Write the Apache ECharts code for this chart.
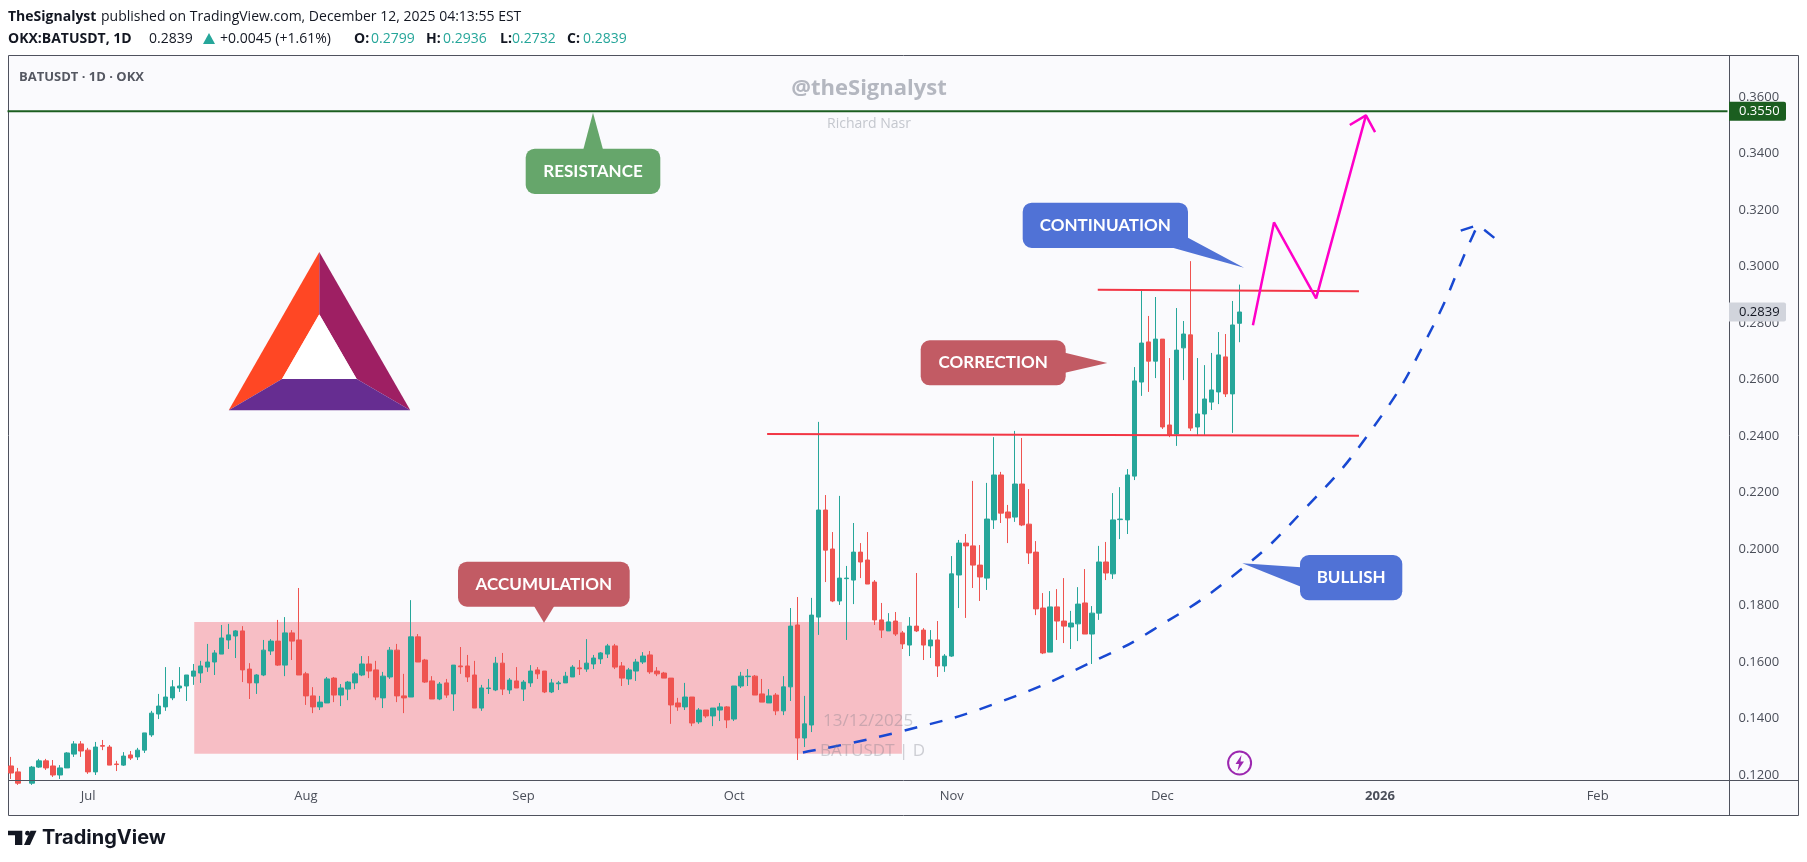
<!DOCTYPE html>
<html>
<head>
<meta charset="utf-8">
<title>BATUSDT 1D</title>
<style>
  html, body { margin: 0; padding: 0; background: #fff; }
  #chart { width: 1807px; height: 862px; }
</style>
<script src="https://cdn.jsdelivr.net/npm/echarts@6/dist/echarts.min.js"></script>
</head>
<body>
<div id="chart"></div>
<script>
// daily candles, first one is 2025-06-20
const opens = [
  .1232,.1211,.1171,.1171,.1228,.1250,.1232,.1200,.1225,.1274,
  .1310,.1288,.1211,.1304,.1299,.1239,.1235,.1271,.1264,.1288,
  .1342,.1416,.1441,.1473,.1508,.1515,.1550,.1561,.1582,.1600,
  .1628,.1678,.1692,.1710,.1575,.1526,.1554,.1639,.1674,.1589,
  .1703,.1678,.1558,.1480,.1441,.1455,.1543,.1483,.1504,.1526,
  .1554,.1593,.1572,.1473,.1547,.1642,.1480,.1476,.1689,.1607,
  .1533,.1469,.1526,.1487,.1586,.1586,.1554,.1437,.1506,.1501,
  .1596,.1501,.1533,.1504,.1526,.1572,.1568,.1494,.1523,.1526,
  .1547,.1579,.1575,.1593,.1611,.1628,.1657,.1586,.1540,.1568,
  .1600,.1625,.1568,.1561,.1543,.1455,.1441,.1476,.1388,.1430,
  .1409,.1430,.1441,.1398,.1515,.1548,.1550,.1487,.1455,.1483,
  .1427,.1512,.1731,.1331,.1377,.1759,.2138,.2000,.1816,.1895,
  .1890,.1989,.1961,.1883,.1749,.1710,.1745,.1703,.1660,.1727,
  .1713,.1657,.1678,.1586,.1621,.1908,.2021,.2011,.1943,.1897,
  .2103,.2262,.2131,.2113,.2230,.2088,.1989,.1791,.1635,.1795,
  .1745,.1724,.1735,.1809,.1699,.1773,.1954,.1912,.2104,.2103,
  .2258,.2591,.2733,.2665,.2743,.2439,.2407,.2712,.2758,.2432,
  .2478,.2520,.2556,.2680,.2549,.2799
];
const closes = [
  .1207,.1171,.1160,.1228,.1250,.1225,.1200,.1225,.1278,.1310,
  .1285,.1211,.1299,.1302,.1235,.1237,.1267,.1260,.1288,.1349,
  .1419,.1444,.1476,.1512,.1515,.1554,.1568,.1586,.1600,.1632,
  .1685,.1696,.1710,.1572,.1526,.1554,.1642,.1674,.1589,.1703,
  .1674,.1554,.1480,.1441,.1458,.1540,.1483,.1508,.1529,.1558,
  .1593,.1568,.1476,.1550,.1642,.1480,.1473,.1689,.1600,.1529,
  .1469,.1522,.1483,.1589,.1583,.1547,.1437,.1508,.1508,.1596,
  .1504,.1536,.1508,.1529,.1568,.1558,.1494,.1526,.1526,.1550,
  .1582,.1576,.1596,.1614,.1632,.1657,.1582,.1543,.1572,.1600,
  .1621,.1565,.1558,.1543,.1448,.1441,.1476,.1384,.1430,.1409,
  .1437,.1441,.1395,.1515,.1550,.1550,.1483,.1458,.1480,.1427,
  .1512,.1727,.1331,.1381,.1766,.2138,.1996,.1816,.1897,.1897,
  .1989,.1954,.1876,.1749,.1713,.1742,.1699,.1664,.1727,.1710,
  .1660,.1678,.1586,.1621,.1912,.2021,.2011,.1943,.1901,.2106,
  .2262,.2127,.2110,.2230,.2085,.1986,.1788,.1632,.1795,.1745,
  .1727,.1738,.1805,.1699,.1773,.1954,.1915,.2103,.2106,.2262,
  .2595,.2729,.2665,.2743,.2432,.2404,.2704,.2761,.2428,.2478,
  .2531,.2563,.2687,.2549,.2793,.2839
];
const highs = [
  .1264,.1225,.1178,.1232,.1257,.1257,.1253,.1235,.1281,.1320,
  .1320,.1296,.1317,.1324,.1306,.1250,.1281,.1285,.1296,.1349,
  .1427,.1487,.1582,.1536,.1582,.1554,.1593,.1604,.1664,.1642,
  .1731,.1735,.1713,.1727,.1596,.1557,.1678,.1681,.1749,.1759,
  .1713,.1862,.1565,.1511,.1480,.1547,.1547,.1522,.1533,.1565,
  .1621,.1621,.1604,.1565,.1653,.1664,.1558,.1819,.1699,.1611,
  .1550,.1529,.1540,.1589,.1653,.1625,.1604,.1519,.1540,.1618,
  .1632,.1543,.1582,.1536,.1589,.1582,.1568,.1540,.1533,.1565,
  .1589,.1607,.1681,.1625,.1635,.1664,.1664,.1600,.1579,.1611,
  .1635,.1639,.1582,.1565,.1543,.1473,.1526,.1476,.1437,.1430,
  .1437,.1455,.1444,.1515,.1565,.1575,.1554,.1540,.1504,.1490,
  .1550,.1791,.1830,.1480,.1827,.2450,.2191,.2060,.2188,.1940,
  .2092,.2021,.2060,.1890,.1809,.1773,.1777,.1710,.1759,.1915,
  .1720,.1713,.1745,.1628,.1975,.2032,.2053,.2241,.2014,.2234,
  .2396,.2273,.2156,.2418,.2393,.2212,.2028,.1844,.1851,.1858,
  .1897,.1781,.1865,.1929,.1798,.2011,.2025,.2198,.2219,.2283,
  .2644,.2917,.2825,.2892,.2743,.2676,.2853,.2807,.3019,.2676,
  .2651,.2694,.2768,.2761,.2878,.2936
];
const lows = [
  .1186,.1165,.1150,.1165,.1225,.1218,.1193,.1186,.1225,.1264,
  .1264,.1204,.1200,.1288,.1235,.1214,.1232,.1253,.1253,.1278,
  .1335,.1398,.1427,.1465,.1494,.1462,.1519,.1526,.1565,.1554,
  .1628,.1646,.1614,.1529,.1469,.1487,.1550,.1625,.1586,.1550,
  .1607,.1554,.1448,.1419,.1430,.1455,.1458,.1444,.1465,.1504,
  .1550,.1543,.1465,.1437,.1540,.1458,.1419,.1476,.1600,.1526,
  .1469,.1465,.1473,.1427,.1558,.1529,.1437,.1427,.1487,.1497,
  .1483,.1487,.1508,.1462,.1512,.1540,.1490,.1490,.1501,.1526,
  .1547,.1554,.1565,.1575,.1593,.1614,.1575,.1515,.1519,.1533,
  .1593,.1558,.1550,.1543,.1381,.1427,.1430,.1373,.1381,.1402,
  .1373,.1391,.1366,.1391,.1508,.1515,.1483,.1458,.1455,.1412,
  .1412,.1462,.1253,.1299,.1352,.1696,.1883,.1812,.1802,.1678,
  .1805,.1897,.1876,.1731,.1685,.1710,.1692,.1646,.1621,.1706,
  .1607,.1614,.1547,.1565,.1618,.1791,.1756,.1862,.1816,.1855,
  .2071,.2092,.2021,.2096,.2081,.1947,.1766,.1628,.1635,.1678,
  .1667,.1646,.1674,.1699,.1593,.1749,.1890,.1894,.2035,.2053,
  .2244,.2542,.2556,.2605,.2425,.2396,.2365,.2598,.2418,.2404,
  .2404,.2492,.2513,.2538,.2411,.2732
];

const monthTicks = [11, 42, 73, 103, 134, 164, 195, 226];
const monthLabels = ['Jul', 'Aug', 'Sep', 'Oct', 'Nov', 'Dec', '2026', 'Feb'];
const priceTicks = [.12, .14, .16, .18, .20, .22, .24, .26, .28, .30, .32, .34, .36];

const resistance = 0.355;
const lastPrice = 0.2839;

// drawings, x is the bar number (past the last candle too), y is price
const zoneBars = [26.1, 126.9];
const zonePrices = [0.1275, 0.1742];
const upperBars = [154.8, 192];
const upperPrices = [0.2918, 0.2912];
const lowerBars = [107.7, 192];
const lowerPrices = [0.2407, 0.2401];
const pinkBars = [176.9, 179.9, 185.9, 193];
const pinkPrices = [0.2792, 0.3156, 0.2887, 0.3535];
const pinkHeadBars = [190.7, 193, 194.3];
const pinkHeadPrices = [0.3501, 0.3535, 0.3476];
const curveBars = [112.8, 126.4, 140.9, 155.6, 162.5, 173.9, 183.9, 194, 201.7, 208.4, 209];
const curvePrices = [0.1280, 0.1352, 0.1459, 0.1619, 0.1711, 0.1902, 0.2132, 0.2429, 0.2747, 0.3119, 0.3147];
const curveHeadBars = [206.5, 209, 211.5];
const curveHeadPrices = [0.3127, 0.3147, 0.3097];

const FONT = '"Open Sans", sans-serif';
const UP = '#26a69a';
const DOWN = '#ef5350';
const TOTAL_BARS = 245;

function zip(a, b) {
  return a.map((v, i) => [v, b[i]]);
}

function drawing(bars, prices, color, width, extra) {
  return Object.assign({
    type: 'line',
    xAxisIndex: 1,
    yAxisIndex: 0,
    data: zip(bars, prices),
    symbol: 'none',
    silent: true,
    z: 5,
    lineStyle: { color: color, width: width }
  }, extra || {});
}

// dates for the category axis
const categories = [];
for (let i = 0; i < TOTAL_BARS; i++) {
  categories.push(new Date(Date.UTC(2025, 5, 20 + i)).toISOString().slice(0, 10));
}

const chart = echarts.init(document.getElementById('chart'), null, { renderer: 'canvas' });

chart.setOption({
  animation: false,
  backgroundColor: '#ffffff',
  grid: { left: 7.5, top: 55, width: 1720, height: 725, containLabel: false },
  xAxis: [
    {
      type: 'category',
      data: categories,
      axisLine: { show: false },
      axisTick: { show: false },
      splitLine: { show: false },
      axisLabel: {
        interval: (index) => monthTicks.includes(index),
        formatter: (value, index) => {
          const label = monthLabels[monthTicks.indexOf(index)];
          return label === '2026' ? '{year|2026}' : label;
        },
        margin: 10,
        color: '#4a4e59',
        fontFamily: FONT,
        fontSize: 13,
        hideOverlap: false,
        rich: { year: { fontWeight: 'bold', color: '#4a4e59', fontFamily: FONT, fontSize: 13 } }
      }
    },
    { type: 'value', show: false, min: -0.5, max: TOTAL_BARS - 0.5 }
  ],
  yAxis: [{
    type: 'value',
    position: 'right',
    min: 0.11823,
    max: 0.37487,
    scale: true,
    axisLine: { show: false },
    axisTick: { show: false },
    splitLine: { show: false },
    axisLabel: {
      customValues: priceTicks,
      formatter: (v) => v.toFixed(4),
      margin: 11,
      color: '#4a4e59',
      fontFamily: FONT,
      fontSize: 13
    }
  }],
  series: [
    {
      type: 'line',
      xAxisIndex: 1,
      yAxisIndex: 0,
      data: [],
      z: 1,
      markArea: {
        silent: true,
        itemStyle: { color: 'rgba(242,54,69,0.3)' },
        data: [[
          { xAxis: zoneBars[0], yAxis: zonePrices[0] },
          { xAxis: zoneBars[1], yAxis: zonePrices[1] }
        ]]
      }
    },
    {
      type: 'candlestick',
      xAxisIndex: 0,
      yAxisIndex: 0,
      barWidth: 5,
      z: 2,
      data: opens.map((o, i) => [o, closes[i], lows[i], highs[i]]),
      itemStyle: {
        color: UP,
        color0: DOWN,
        borderColor: UP,
        borderColor0: DOWN,
        borderWidth: 1
      }
    },
    drawing([-0.5, TOTAL_BARS - 0.5], [resistance, resistance], '#1b5e20', 2),
    drawing(upperBars, upperPrices, '#f23645', 2),
    drawing(lowerBars, lowerPrices, '#f23645', 2),
    drawing(pinkBars, pinkPrices, '#ff00c8', 2.5),
    drawing(pinkHeadBars, pinkHeadPrices, '#ff00c8', 2.5),
    drawing(curveBars, curvePrices, '#1848d2', 2.5, { smooth: true, lineStyle: { color: '#1848d2', width: 2.5, type: [13, 13] } }),
    drawing(curveHeadBars, curveHeadPrices, '#1848d2', 2.5, { lineStyle: { color: '#1848d2', width: 2.5, type: [13, 13] } })
  ]
});

function poly(points, fill, z) {
  return { type: 'polygon', z: z || 20, silent: true, shape: { points: points }, style: { fill: fill } };
}

function text(x, y, str, opts) {
  const o = opts || {};
  return {
    type: 'text',
    z: o.z || 30,
    silent: true,
    x: x,
    y: y,
    style: {
      text: str,
      fill: o.color || '#131722',
      font: (o.weight || 'normal') + ' ' + (o.size || 14) + 'px ' + (o.family || FONT),
      align: o.align || 'left',
      verticalAlign: 'middle',
      opacity: o.opacity === undefined ? 1 : o.opacity
    }
  };
}

function callout(box, pointer, fill, label) {
  const rect = {
    type: 'rect',
    z: 20,
    silent: true,
    shape: { x: box[0], y: box[1], width: box[2] - box[0], height: box[3] - box[1], r: 9 },
    style: { fill: fill }
  };
  return [
    rect,
    poly(pointer, fill),
    text((box[0] + box[2]) / 2, (box[1] + box[3]) / 2, label, { color: '#ffffff', weight: 'bold', size: 17, align: 'center', family: 'Lato, sans-serif' })
  ];
}

function frameLine(x1, y1, x2, y2) {
  return {
    type: 'line',
    z: 3,
    silent: true,
    shape: { x1: x1, y1: y1, x2: x2, y2: y2 },
    style: { stroke: '#4f525e', lineWidth: 1 }
  };
}

function priceTag(price, fill, color) {
  const y = chart.convertToPixel({ yAxisIndex: 0 }, price);
  return [
    {
      type: 'rect',
      z: 40,
      silent: true,
      shape: { x: 1729, y: y - 9.5, width: 57, height: 19, r: [0, 2, 2, 0] },
      style: { fill: fill }
    },
    text(1739, y, price.toFixed(4), { color: color, size: 13, z: 41 })
  ];
}

const elements = [
  // panel and frame
  { type: 'rect', z: -1, silent: true, shape: { x: 8.5, y: 55.5, width: 1790, height: 760 }, style: { fill: '#fafafd', stroke: '#4f525e', lineWidth: 1 } },
  frameLine(8.5, 780.5, 1798.5, 780.5),
  frameLine(1729.5, 55.5, 1729.5, 815.5),

  // header
  text(8, 17, 'TheSignalyst', { weight: 'bold', size: 14 }),
  text(101, 17, 'published on TradingView.com, December 12, 2025 04:13:55 EST', { size: 14 }),
  text(8, 39, 'OKX:BATUSDT, 1D', { weight: 'bold', size: 14 }),
  text(149, 39, '0.2839', { size: 14 }),
  poly([[203, 44], [209, 33], [215, 44]], UP, 30),
  text(220, 39, '+0.0045 (+1.61%)', { size: 14 }),
  text(354, 39, 'O:', { weight: 'bold', size: 14 }),
  text(371, 39, '0.2799', { size: 14, color: UP }),
  text(426, 39, 'H:', { weight: 'bold', size: 14 }),
  text(443, 39, '0.2936', { size: 14, color: UP }),
  text(500, 39, 'L:', { weight: 'bold', size: 14 }),
  text(512, 39, '0.2732', { size: 14, color: UP }),
  text(567, 39, 'C:', { weight: 'bold', size: 14 }),
  text(583, 39, '0.2839', { size: 14, color: UP }),
  text(19, 77, 'BATUSDT · 1D · OKX', { weight: 'bold', size: 13, color: '#555862' }),

  // watermarks
  text(869, 89, '@theSignalyst', { weight: 'bold', size: 22, color: '#b4b7c0', align: 'center', z: 1 }),
  text(869, 124, 'Richard Nasr', { size: 14, color: '#c4c7ce', align: 'center', z: 1 }),
  text(823, 721, '13/12/2025', { size: 17, color: 'rgba(120,123,134,0.35)', z: 6 }),
  text(820, 751, 'BATUSDT | D', { size: 17, color: 'rgba(120,123,134,0.35)', z: 6 }),

  // BAT logo
  poly([[319.3, 252], [319.3, 314.3], [282, 379], [228.7, 410.3]], '#ff4724'),
  poly([[319.3, 252], [410.3, 410.3], [356.7, 379], [319.3, 314.3]], '#9e1f63'),
  poly([[228.7, 410.3], [282, 379], [356.7, 379], [410.3, 410.3]], '#662d91'),
  poly([[319.3, 314.3], [356.7, 379], [282, 379]], '#ffffff'),

  // callouts
  ...callout([525.7, 148.7, 660.3, 194], [[593, 112.7], [583.3, 149.5], [603, 149.5]], '#66a66b', 'RESISTANCE'),
  ...callout([458, 561.7, 629.7, 606.7], [[544, 622.7], [534, 606], [554.3, 606]], '#c25b64', 'ACCUMULATION'),
  ...callout([920.7, 340.3, 1065.7, 385.3], [[1107.3, 363], [1065, 352.7], [1065, 372.7]], '#c25b64', 'CORRECTION'),
  ...callout([1022.7, 202.7, 1188, 248], [[1244, 267.7], [1188, 237.7], [1179.3, 248], [1170, 247]], '#5072d6', 'CONTINUATION'),
  ...callout([1300, 555, 1402.3, 600.3], [[1242.3, 563.3], [1301, 567.3], [1301, 586.7]], '#5072d6', 'BULLISH'),

  // lightning mark
  { type: 'circle', z: 20, silent: true, shape: { cx: 1239.6, cy: 763, r: 11.5 }, style: { fill: 'none', stroke: '#9c27b0', lineWidth: 2 } },
  poly([[1241.5, 755], [1235.5, 764], [1239, 764], [1237.5, 771], [1244, 761.5], [1240.5, 761.5]], '#9c27b0'),

  // TradingView footer
  poly([[8, 830.7], [22.3, 830.7], [22.3, 845], [15, 845], [15, 835.3], [8, 835.3]], '#131722'),
  { type: 'circle', z: 20, silent: true, shape: { cx: 27.5, cy: 833.2, r: 2.4 }, style: { fill: '#131722' } },
  poly([[30.5, 830.7], [36.5, 830.7], [30, 845], [24, 845]], '#131722'),
  text(42, 838, 'TradingView', { weight: 'bold', size: 20, family: 'Inter, sans-serif', color: '#131722' }),

  ...priceTag(resistance, '#1b5e20', '#ffffff'),
  ...priceTag(lastPrice, '#d1d4dc', '#131722')
];

chart.setOption({ graphic: { elements: elements } });
</script>
</body>
</html>
